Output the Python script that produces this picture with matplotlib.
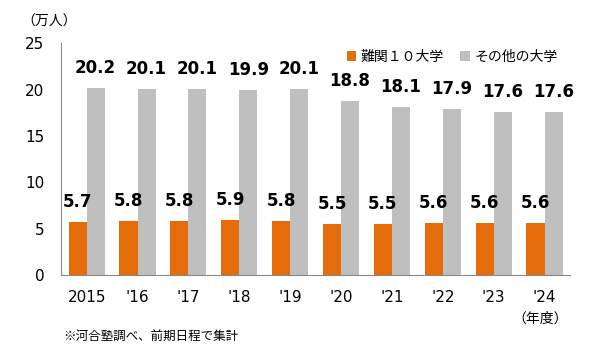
import numpy as np
import matplotlib
matplotlib.use("Agg")
import matplotlib.pyplot as plt

plt.rcParams['font.family'] = ['DejaVu Sans', 'Noto Sans CJK JP']

years = ["2015", "'16", "'17", "'18", "'19", "'20", "'21", "'22", "'23", "'24"]
nankan10 = [5.7, 5.8, 5.8, 5.9, 5.8, 5.5, 5.5, 5.6, 5.6, 5.6]
sonota = [20.2, 20.1, 20.1, 19.9, 20.1, 18.8, 18.1, 17.9, 17.6, 17.6]

orange = "#E46C0A"
gray = "#BFBFBF"
jp = ['Noto Sans CJK JP', 'DejaVu Sans']

fig = plt.figure(figsize=(6, 3.6), dpi=100)
ax = fig.add_axes([0.102, 0.236, 0.848, 0.644])

x = np.arange(len(years))
w = 0.355
b1 = ax.bar(x - w / 2, nankan10, w, color=orange, label="難関１０大学")
b2 = ax.bar(x + w / 2, sonota, w, color=gray, label="その他の大学")

# 値ラベル
for rects, vals in ((b1, nankan10), (b2, sonota)):
    for r, v in zip(rects, vals):
        ax.annotate(f"{v:.1f}", (r.get_x() + r.get_width() / 2, v),
                    xytext=(0, 8), textcoords="offset points",
                    ha="center", va="bottom", fontsize=12, fontweight="bold")

ax.set_xlim(-0.5, len(years) - 0.5)
ax.set_ylim(0, 25)
ax.set_yticks([0, 5, 10, 15, 20, 25])
ax.set_xticks(x)
ax.set_xticklabels(years)
ax.tick_params(axis="both", length=0, labelsize=11, colors="#000000")
ax.tick_params(axis="y", pad=12)
ax.tick_params(axis="x", pad=10.5)

for s in ("top", "right"):
    ax.spines[s].set_visible(False)
for s in ("left", "bottom"):
    ax.spines[s].set_color("#898989")

leg = ax.legend(loc="upper right", bbox_to_anchor=(1.0, 1.025), ncol=2, frameon=False,
                prop={"family": jp, "size": 10}, handlelength=0.7, handleheight=0.7,
                handletextpad=0.3, columnspacing=1.2)

fig.text(0.035, 0.94, "（万人）", family=jp, fontsize=10, va="center")
fig.text(0.9, 0.115, "（年度）", family=jp, fontsize=10, ha="center", va="center")
fig.text(0.105, 0.064, "※河合塾調べ、前期日程で集計", family=jp, fontsize=9, va="center")

fig.savefig("out.png", dpi=100)
